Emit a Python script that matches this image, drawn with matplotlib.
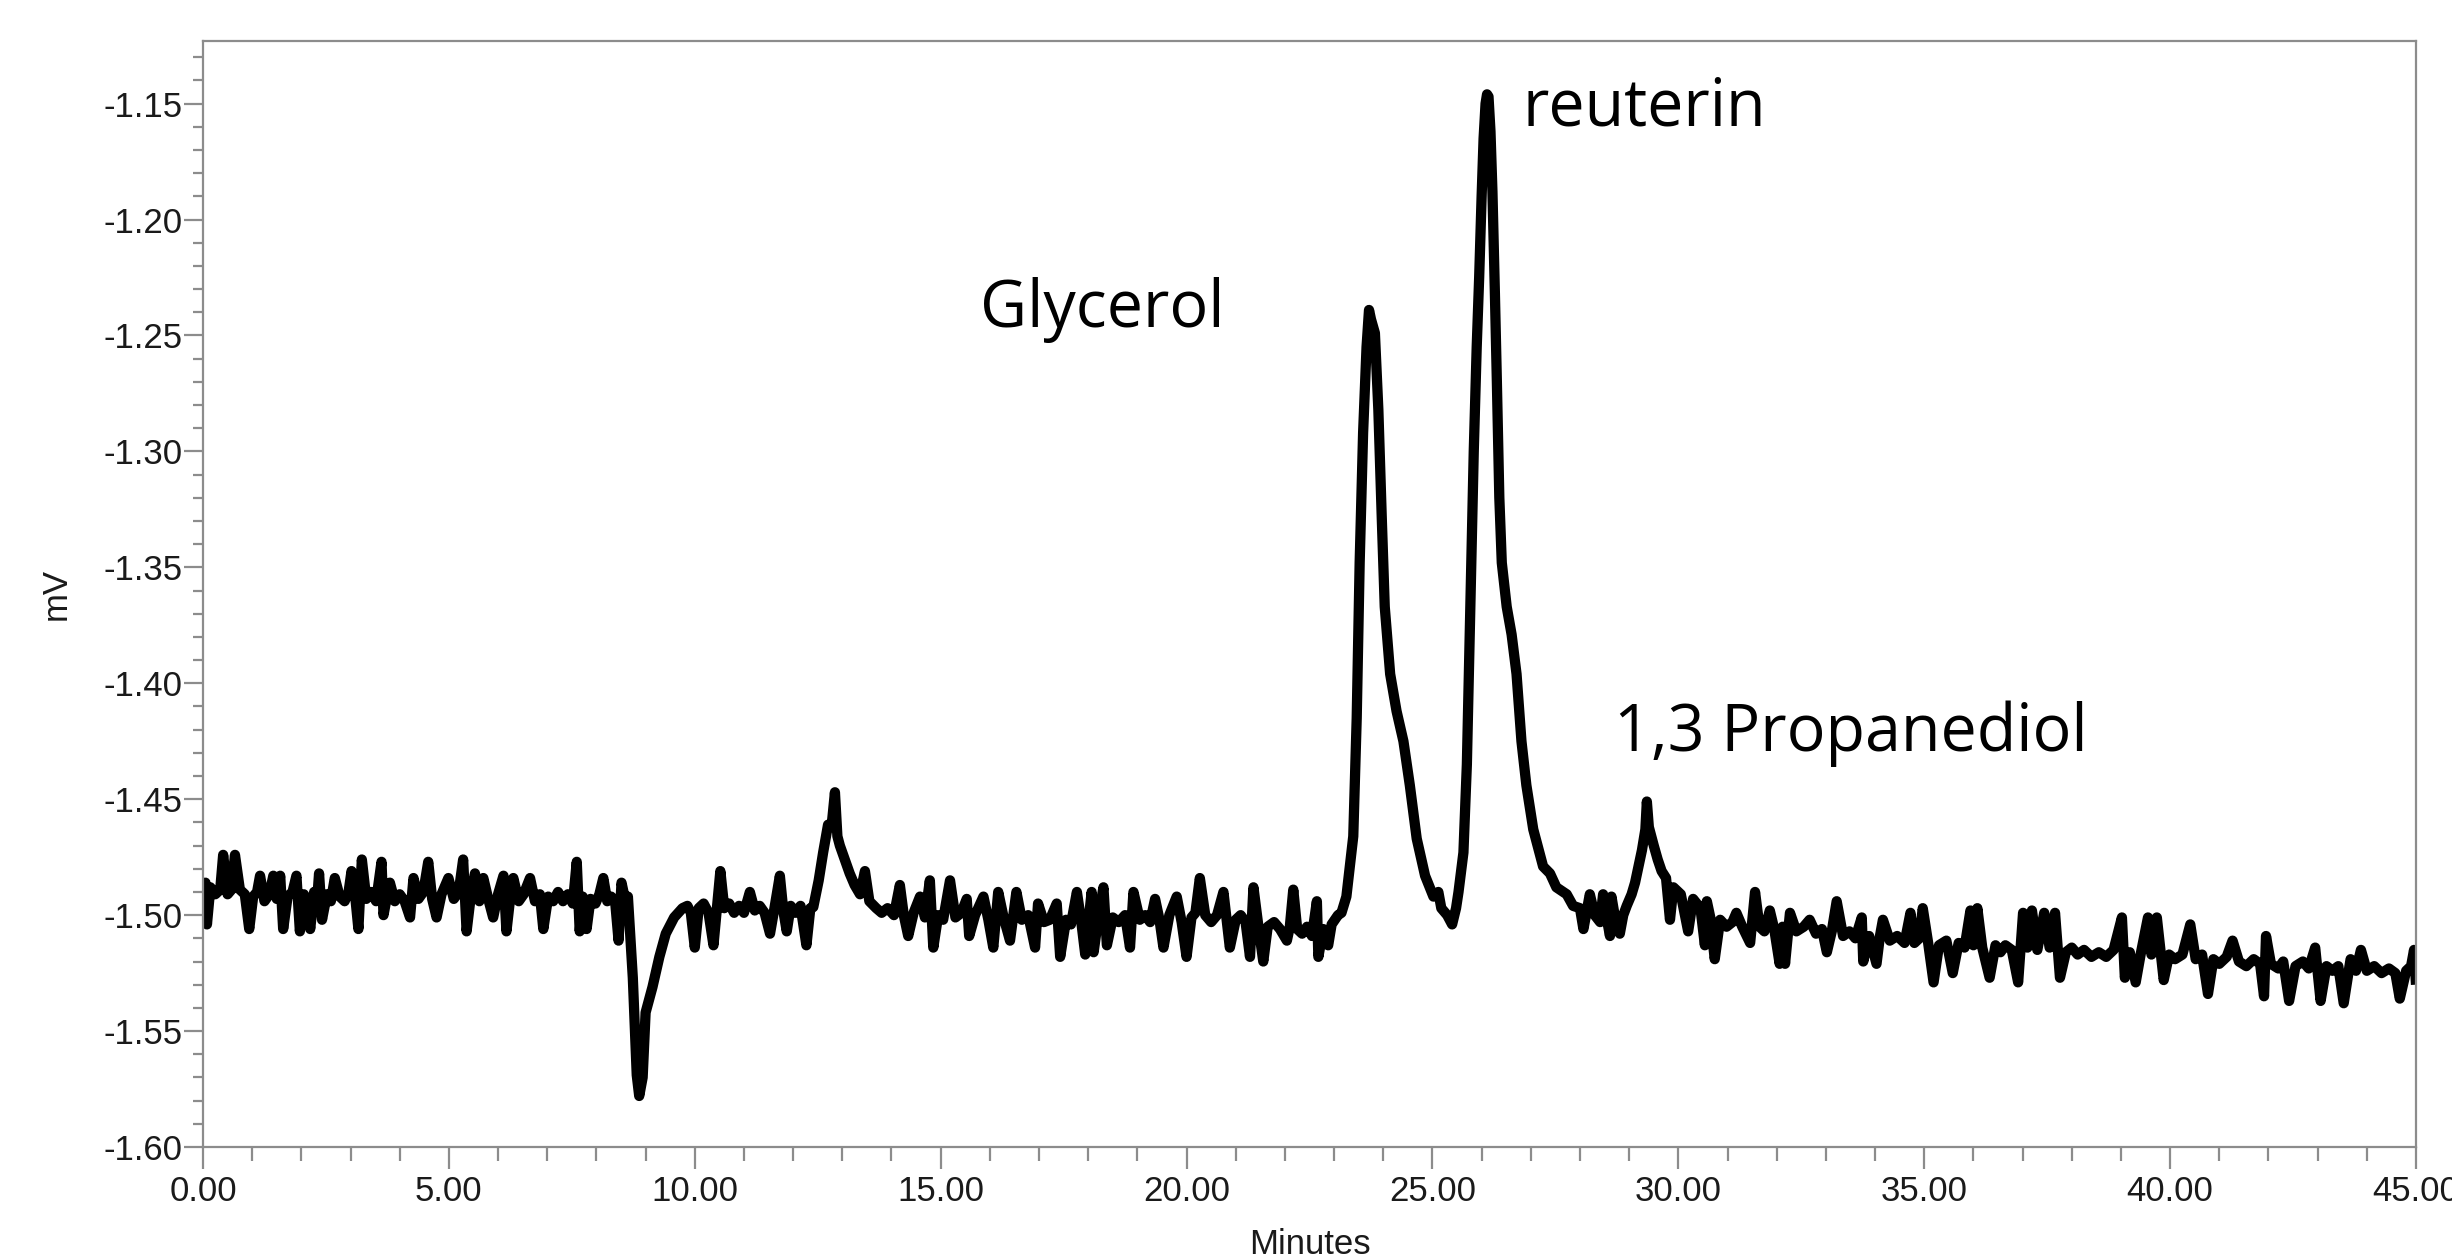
import matplotlib
matplotlib.use("Agg")
import matplotlib.pyplot as plt
from matplotlib.ticker import MultipleLocator, FormatStrFormatter

# trace, (minutes, mV) pairs, split by region
baseline_start = [
    (0.00, -1.497), (0.05, -1.486), (0.08, -1.504), (0.15, -1.488), (0.25, -1.491),
    (0.35, -1.489), (0.41, -1.474), (0.50, -1.491), (0.58, -1.489), (0.65, -1.474),
    (0.75, -1.489), (0.85, -1.491), (0.94, -1.506), (1.02, -1.492), (1.10, -1.490),
    (1.16, -1.483), (1.25, -1.494), (1.35, -1.491), (1.43, -1.483), (1.50, -1.493),
    (1.57, -1.483), (1.63, -1.506), (1.72, -1.492), (1.82, -1.490), (1.90, -1.483),
    (1.97, -1.507), (2.05, -1.491), (2.12, -1.494), (2.18, -1.506), (2.26, -1.490),
    (2.32, -1.494), (2.36, -1.482), (2.42, -1.502), (2.52, -1.491), (2.60, -1.494),
    (2.68, -1.484), (2.78, -1.492), (2.88, -1.494), (2.96, -1.490), (3.02, -1.481),
    (3.10, -1.493), (3.16, -1.506), (3.23, -1.476), (3.32, -1.493), (3.42, -1.490),
    (3.52, -1.494), (3.63, -1.477), (3.67, -1.500), (3.74, -1.492), (3.80, -1.486),
    (3.90, -1.494), (4.00, -1.491), (4.10, -1.494), (4.21, -1.501), (4.28, -1.484),
    (4.38, -1.493), (4.48, -1.490), (4.58, -1.477), (4.66, -1.493), (4.75, -1.501),
    (4.85, -1.491), (4.99, -1.484), (5.10, -1.493), (5.20, -1.490), (5.29, -1.476),
    (5.36, -1.507), (5.45, -1.491), (5.53, -1.482), (5.62, -1.494), (5.70, -1.484),
    (5.80, -1.493), (5.90, -1.501), (6.00, -1.491), (6.11, -1.483), (6.17, -1.507),
    (6.25, -1.492), (6.31, -1.484), (6.42, -1.494), (6.52, -1.491), (6.65, -1.484),
    (6.75, -1.494), (6.85, -1.491), (6.92, -1.506), (7.02, -1.492), (7.12, -1.494),
    (7.22, -1.490), (7.32, -1.494), (7.42, -1.491), (7.52, -1.495), (7.60, -1.477),
    (7.66, -1.507), (7.72, -1.492), (7.80, -1.506), (7.88, -1.493), (7.98, -1.495),
    (8.06, -1.491), (8.14, -1.484), (8.22, -1.494), (8.30, -1.492), (8.38, -1.494),
    (8.45, -1.511), (8.51, -1.486), (8.58, -1.493), (8.64, -1.492),
]

solvent_dip = [
    (8.74, -1.527), (8.82, -1.569), (8.87, -1.578), (8.94, -1.570), (9.00, -1.542),
    (9.14, -1.531), (9.28, -1.518), (9.41, -1.508), (9.58, -1.501), (9.75, -1.497),
]

small_peak = [
    (9.85, -1.496), (9.92, -1.499), (10.00, -1.514), (10.08, -1.497), (10.18, -1.495),
    (10.28, -1.499), (10.38, -1.513), (10.45, -1.497), (10.52, -1.481), (10.60, -1.497),
    (10.70, -1.495), (10.80, -1.499), (10.90, -1.496), (11.00, -1.499), (11.12, -1.490),
    (11.22, -1.498), (11.32, -1.496), (11.42, -1.499), (11.53, -1.508), (11.62, -1.497),
    (11.73, -1.483), (11.80, -1.498), (11.87, -1.507), (11.95, -1.496), (12.05, -1.499),
    (12.15, -1.496), (12.27, -1.513), (12.35, -1.497), (12.41, -1.4965), (12.52, -1.485),
    (12.61, -1.473), (12.71, -1.461), (12.78, -1.462), (12.85, -1.447), (12.90, -1.466),
    (12.95, -1.470), (13.05, -1.476), (13.15, -1.482), (13.25, -1.487), (13.36, -1.491),
    (13.46, -1.481), (13.55, -1.494), (13.69, -1.497), (13.80, -1.499), (13.92, -1.497),
    (14.05, -1.500), (14.17, -1.487),
]

baseline_mid = [
    (14.25, -1.500), (14.34, -1.509), (14.45, -1.499), (14.58, -1.492), (14.68, -1.501),
    (14.78, -1.485), (14.85, -1.514), (14.95, -1.500), (15.05, -1.502), (15.19, -1.485),
    (15.30, -1.501), (15.42, -1.499), (15.53, -1.493), (15.58, -1.509), (15.70, -1.500),
    (15.87, -1.492), (15.97, -1.502), (16.07, -1.514), (16.17, -1.490), (16.28, -1.501),
    (16.41, -1.511), (16.54, -1.490), (16.65, -1.502), (16.78, -1.500), (16.92, -1.514),
    (16.98, -1.495), (17.10, -1.503), (17.22, -1.502), (17.36, -1.495), (17.43, -1.518),
    (17.55, -1.502), (17.65, -1.504), (17.77, -1.490), (17.86, -1.503), (17.94, -1.517),
    (18.02, -1.500), (18.07, -1.490), (18.11, -1.516), (18.20, -1.502), (18.31, -1.488),
    (18.38, -1.513), (18.50, -1.501), (18.62, -1.503), (18.75, -1.500), (18.85, -1.514),
    (18.92, -1.490), (19.05, -1.502), (19.16, -1.500), (19.26, -1.503), (19.36, -1.493),
    (19.45, -1.502), (19.53, -1.514), (19.65, -1.500), (19.80, -1.492), (19.90, -1.503),
    (20.00, -1.518), (20.10, -1.501), (20.18, -1.499), (20.27, -1.484), (20.38, -1.500),
    (20.50, -1.503), (20.62, -1.500), (20.75, -1.490), (20.88, -1.514), (21.00, -1.502),
    (21.10, -1.500), (21.20, -1.503), (21.29, -1.518), (21.36, -1.488), (21.45, -1.503),
    (21.56, -1.520), (21.65, -1.505), (21.78, -1.503), (21.90, -1.506), (22.04, -1.511),
    (22.10, -1.505), (22.17, -1.489), (22.25, -1.506), (22.35, -1.508), (22.45, -1.505),
    (22.55, -1.509), (22.65, -1.494), (22.68, -1.518), (22.78, -1.506), (22.88, -1.513),
    (22.95, -1.504), (23.08, -1.500),
]

glycerol_reuterin = [
    (23.15, -1.499), (23.25, -1.492), (23.39, -1.466), (23.46, -1.415), (23.52, -1.348),
    (23.59, -1.292), (23.66, -1.255), (23.71, -1.239), (23.75, -1.243), (23.83, -1.249),
    (23.90, -1.282), (23.97, -1.329), (24.03, -1.367), (24.14, -1.396), (24.27, -1.412),
    (24.41, -1.425), (24.54, -1.444), (24.68, -1.467), (24.85, -1.483), (25.02, -1.492),
    (25.12, -1.490), (25.18, -1.497), (25.30, -1.500), (25.40, -1.504), (25.48, -1.497),
    (25.53, -1.490), (25.63, -1.473), (25.70, -1.435), (25.77, -1.367), (25.84, -1.300),
    (25.90, -1.255), (25.95, -1.225), (26.00, -1.190), (26.04, -1.165), (26.08, -1.150),
    (26.11, -1.146), (26.14, -1.147), (26.18, -1.162), (26.22, -1.188), (26.27, -1.232),
    (26.31, -1.270), (26.36, -1.320), (26.41, -1.348), (26.51, -1.367), (26.61, -1.379),
    (26.71, -1.396), (26.81, -1.425), (26.91, -1.444), (27.05, -1.463), (27.25, -1.479),
    (27.39, -1.482), (27.52, -1.488), (27.73, -1.491), (27.86, -1.496), (28.00, -1.497),
]

propanediol = [
    (28.07, -1.506), (28.20, -1.491), (28.30, -1.500), (28.41, -1.503), (28.47, -1.491),
    (28.55, -1.502), (28.61, -1.509), (28.64, -1.492), (28.72, -1.502), (28.81, -1.508),
    (28.88, -1.500), (28.95, -1.496), (29.05, -1.491), (29.12, -1.486), (29.20, -1.478),
    (29.26, -1.472), (29.33, -1.463), (29.36, -1.451), (29.40, -1.462), (29.50, -1.470),
    (29.58, -1.476), (29.66, -1.481), (29.75, -1.484), (29.83, -1.502), (29.90, -1.488),
    (30.05, -1.491), (30.20, -1.507), (30.30, -1.493), (30.45, -1.497), (30.54, -1.513),
    (30.58, -1.494), (30.65, -1.501), (30.74, -1.519), (30.85, -1.502), (30.98, -1.505),
    (31.10, -1.503), (31.18, -1.499), (31.30, -1.505), (31.46, -1.512), (31.56, -1.490),
    (31.65, -1.505), (31.75, -1.507), (31.86, -1.498), (31.95, -1.506), (32.06, -1.521),
    (32.12, -1.505), (32.17, -1.521), (32.27, -1.499), (32.40, -1.507), (32.55, -1.505),
    (32.67, -1.502), (32.80, -1.508), (32.92, -1.506), (33.02, -1.516), (33.12, -1.507),
    (33.22, -1.494), (33.35, -1.509), (33.48, -1.507), (33.60, -1.510), (33.73, -1.501),
    (33.76, -1.520), (33.88, -1.509), (34.03, -1.521), (34.10, -1.509), (34.16, -1.502),
    (34.30, -1.511), (34.45, -1.509), (34.60, -1.512),
]

baseline_end = [
    (34.72, -1.499), (34.80, -1.512), (34.90, -1.510), (34.97, -1.497), (35.08, -1.512),
    (35.19, -1.529), (35.30, -1.513), (35.45, -1.511), (35.58, -1.525), (35.70, -1.512),
    (35.82, -1.514), (35.94, -1.498), (36.00, -1.513), (36.08, -1.497), (36.18, -1.514),
    (36.33, -1.527), (36.45, -1.513), (36.55, -1.516), (36.65, -1.513), (36.78, -1.515),
    (36.91, -1.529), (37.01, -1.499), (37.10, -1.514), (37.19, -1.498), (37.30, -1.515),
    (37.44, -1.499), (37.55, -1.514), (37.66, -1.499), (37.76, -1.527), (37.88, -1.516),
    (38.00, -1.514), (38.12, -1.517), (38.25, -1.515), (38.40, -1.518), (38.55, -1.516),
    (38.70, -1.518), (38.85, -1.515), (39.02, -1.501), (39.08, -1.527), (39.18, -1.516),
    (39.30, -1.529), (39.40, -1.517), (39.55, -1.501), (39.62, -1.517), (39.73, -1.501),
    (39.87, -1.528), (39.98, -1.517), (40.10, -1.519), (40.25, -1.517), (40.41, -1.504),
    (40.52, -1.519), (40.65, -1.517), (40.77, -1.534), (40.88, -1.519), (41.00, -1.521),
    (41.15, -1.518), (41.27, -1.511), (41.40, -1.520), (41.55, -1.522), (41.70, -1.519),
    (41.83, -1.521), (41.91, -1.535), (41.95, -1.509), (42.05, -1.521), (42.20, -1.523),
    (42.30, -1.520), (42.42, -1.537), (42.55, -1.522), (42.70, -1.520), (42.82, -1.523),
    (42.95, -1.514), (43.06, -1.537), (43.18, -1.522), (43.30, -1.524), (43.42, -1.522),
    (43.53, -1.538), (43.67, -1.519), (43.78, -1.524), (43.88, -1.515), (44.00, -1.524),
    (44.15, -1.522), (44.30, -1.525), (44.45, -1.523), (44.58, -1.525), (44.67, -1.536),
    (44.80, -1.524), (44.90, -1.522), (44.96, -1.515), (45.00, -1.530),
]

# peak labels: text, minutes, mV (left/baseline of text)
peak_labels = [
    ("Glycerol", 15.80, -1.2465),
    ("reuterin", 26.84, -1.1595),
    ("1,3 Propanediol", 28.70, -1.4290),
]

trace = (baseline_start + solvent_dip + small_peak + baseline_mid
         + glycerol_reuterin + propanediol + baseline_end)
minutes = [p[0] for p in trace]
signal_mv = [p[1] for p in trace]

plt.rcParams['axes.unicode_minus'] = False
plt.rcParams['font.family'] = ['Liberation Sans', 'DejaVu Sans']

fig = plt.figure(figsize=(24.52, 12.55), dpi=100)
ax = fig.add_axes([203 / 2452, 1 - 1147 / 1255, 2213 / 2452, 1106 / 1255])

ax.plot(minutes, signal_mv, color='black', linewidth=7.4,
        solid_joinstyle='round', solid_capstyle='butt')

for label, x, y in peak_labels:
    ax.text(x, y, label, fontsize=46.5, family=['Open Sans', 'DejaVu Sans'],
            ha='left', va='baseline', color='black')

ax.set_xlim(0, 45)
ax.set_ylim(-1.60, -1.123)

ax.xaxis.set_major_locator(MultipleLocator(5))
ax.xaxis.set_minor_locator(MultipleLocator(1))
ax.yaxis.set_major_locator(MultipleLocator(0.05))
ax.yaxis.set_minor_locator(MultipleLocator(0.01))
ax.xaxis.set_major_formatter(FormatStrFormatter('%.2f'))
ax.yaxis.set_major_formatter(FormatStrFormatter('%.2f'))

grey = '#8c8c8c'
for side in ['left', 'right', 'top', 'bottom']:
    ax.spines[side].set_color(grey)
    ax.spines[side].set_linewidth(1.6)

ax.tick_params(axis='both', which='major', colors=grey, labelcolor='#1a1a1a',
               labelsize=25, width=1.6)
ax.tick_params(axis='x', which='major', length=16, pad=4)
ax.tick_params(axis='x', which='minor', length=10, width=1.6, colors=grey)
ax.tick_params(axis='y', which='major', length=14, pad=1)
ax.tick_params(axis='y', which='minor', length=7, width=1.6, colors=grey)

ax.set_ylabel('mV', fontsize=25, color='#1a1a1a')
ax.yaxis.set_label_coords(-0.059, 0.5)
ax.set_xlabel('Minutes', fontsize=25, color='#1a1a1a', va='top')
ax.xaxis.set_label_coords(0.5, -0.073)

fig.savefig('out.png', dpi=100)
